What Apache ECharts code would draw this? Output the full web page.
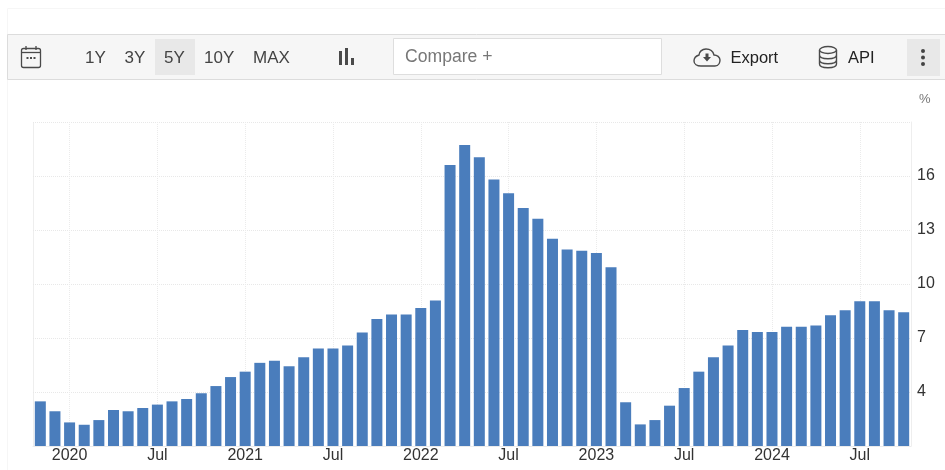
<!DOCTYPE html>
<html>
<head>
<meta charset="utf-8">
<style>html,body{margin:0;padding:0;background:#fff}#c{width:945px;height:470px}</style>
<script src="https://cdn.jsdelivr.net/npm/echarts@6/dist/echarts.min.js"></script>
</head>
<body>
<div id="c"></div>
<script>
const months = ['2019-11','2019-12',
 '2020-01','2020-02','2020-03','2020-04','2020-05','2020-06','2020-07','2020-08','2020-09','2020-10','2020-11','2020-12',
 '2021-01','2021-02','2021-03','2021-04','2021-05','2021-06','2021-07','2021-08','2021-09','2021-10','2021-11','2021-12',
 '2022-01','2022-02','2022-03','2022-04','2022-05','2022-06','2022-07','2022-08','2022-09','2022-10','2022-11','2022-12',
 '2023-01','2023-02','2023-03','2023-04','2023-05','2023-06','2023-07','2023-08','2023-09','2023-10','2023-11','2023-12',
 '2024-01','2024-02','2024-03','2024-04','2024-05','2024-06','2024-07','2024-08','2024-09','2024-10'];
const values = [3.48,2.93,
 2.31,2.18,2.44,3.0,2.93,3.11,3.3,3.48,3.61,3.93,4.33,4.83,
 5.13,5.62,5.74,5.43,5.93,6.41,6.41,6.59,7.31,8.06,8.3,8.3,
 8.67,9.09,16.61,17.72,17.04,15.81,15.04,14.22,13.63,12.52,11.91,11.85,
 11.72,10.93,3.43,2.2,2.44,3.24,4.22,5.13,5.93,6.59,7.44,7.33,
 7.33,7.63,7.63,7.7,8.26,8.54,9.04,9.04,8.54,8.43];
const yTicks = [4,7,10,13,16,19];
const yLabels = [4,7,10,13,16];
const rangeButtons = ['1Y','3Y','5Y','10Y','MAX'];

const FONT = '"Liberation Sans", Arial, sans-serif';
const labelFor = m => {
  const [y, mo] = m.split('-');
  return mo === '01' ? y : mo === '07' ? 'Jul' : '';
};
const isTick = (i) => labelFor(months[i]) !== '';

echarts.graphic.registerShape('iconCloud', echarts.graphic.extendPath('M701 66 H715 C719 66 720 62 720 60 C720 57 717 55 714 55 C713 51 710 49 706 49 C702 49 699 52 699 55 C696 56 694 58 694 61 C694 64 697 66 701 66 Z', {}));
echarts.graphic.registerShape('iconArrow', echarts.graphic.extendPath('M705.5 53.5 H708.5 V57 H711 L707 61.5 L703 57 H705.5 Z', {}));
echarts.graphic.registerShape('iconDb', echarts.graphic.extendPath('M819.5 50 V64 C819.5 69 836.5 69 836.5 64 V50 M819.5 55 C819.5 60 836.5 60 836.5 55 M819.5 60 C819.5 65 836.5 65 836.5 60', {}));

function t(text, x, y, size, fill, extra) {
  return {type:'text', silent:true, style:Object.assign({text, x, y, fill, font:size+'px '+FONT, textVerticalAlign:'middle', textAlign:'left'}, extra||{})};
}
function r(x,y,w,h,style,shapeExtra){
  return {type:'rect', silent:true, shape:Object.assign({x,y,width:w,height:h},shapeExtra||{}), style};
}
const dark = '#4a4a4a';
const stroke = (w,c)=>({fill:'none',stroke:c||dark,lineWidth:w});
const graphics = [
  {type:'line',silent:true,shape:{x1:7.5,y1:8.5,x2:945,y2:8.5},style:{stroke:'#f6f6f6',lineWidth:1}},
  {type:'line',silent:true,shape:{x1:7.5,y1:8.5,x2:7.5,y2:470},style:{stroke:'#f6f6f6',lineWidth:1}},
  r(7.5,34.5,938,45,{fill:'#f6f6f6',stroke:'#dcdcdc',lineWidth:1}),
  r(155,39,40,36,{fill:'#e8e8e8'}),
  r(907,39,33,37,{fill:'#e8e8e8'}),
  r(393.5,38.5,268,36,{fill:'#fff',stroke:'#dedede',lineWidth:1}),
  r(21.5,48.5,19,19,stroke(1.3),{r:2}),
  {type:'line',silent:true,shape:{x1:22,y1:52.5,x2:40,y2:52.5},style:stroke(1.3)},
  {type:'line',silent:true,shape:{x1:26,y1:46,x2:26,y2:50},style:stroke(1.3)},
  {type:'line',silent:true,shape:{x1:36,y1:46,x2:36,y2:50},style:stroke(1.3)},
  r(26.5,57,2,2,{fill:dark}), r(30,57,2,2,{fill:dark}), r(33.5,57,2,2,{fill:dark}),
  r(339,51,3,14,{fill:dark}), r(345,48,3,17,{fill:dark}), r(351,58,3,7,{fill:dark}),
  t('Compare +',405,57.5,17.6,'#777777'),
  {type:'iconCloud',silent:true,style:stroke(1.4)},
  {type:'iconArrow',silent:true,style:{fill:dark}},
  t('Export',730.5,58,16.5,'#222222'),
  {type:'ellipse',silent:true,shape:{cx:828,cy:50,rx:8.5,ry:3.5},style:stroke(1.4)},
  {type:'iconDb',silent:true,style:stroke(1.4)},
  t('API',848,58,16.5,'#222222'),
  {type:'circle',silent:true,shape:{cx:923,cy:51,r:2},style:{fill:'#444'}},
  {type:'circle',silent:true,shape:{cx:923,cy:57.5,r:2},style:{fill:'#444'}},
  {type:'circle',silent:true,shape:{cx:923,cy:64,r:2},style:{fill:'#444'}},
  t('%',919,99,13,'#777777'),
  {type:'line',silent:true,shape:{x1:33.5,y1:122,x2:33.5,y2:446},style:{stroke:'#eeeeee',lineWidth:1}},
];
const btnX = [85,124.5,164,204,253];
rangeButtons.forEach((b,i)=>graphics.push(t(b,btnX[i],58,17,'#444444')));

const chart = echarts.init(document.getElementById('c'),null,{renderer:'canvas'});
chart.setOption({
  animation:false,
  backgroundColor:'#fff',
  textStyle:{fontFamily:FONT},
  grid:{left:33,right:34,top:122,bottom:24},
  xAxis:{
    type:'category',
    data:months,
    axisLine:{lineStyle:{color:'#ececec'}},
    axisTick:{show:false},
    axisLabel:{
      interval:(i)=>isTick(i),
      formatter:(v)=>labelFor(v),
      color:'#333333',fontSize:16,margin:2,hideOverlap:false
    },
    splitLine:{show:true,alignWithLabel:true,interval:(i)=>isTick(i),lineStyle:{color:'#ebebeb',type:'dotted',width:1}}
  },
  yAxis:{
    type:'value',
    position:'right',
    min:1,max:19,
    axisLine:{show:true,lineStyle:{color:'#eeeeee'}},
    axisTick:{show:false,customValues:yTicks},
    axisLabel:{customValues:yLabels,color:'#333333',fontSize:16,margin:6,align:'left',verticalAlign:'middle',padding:[0,0,2,0]},
    splitLine:{show:true,lineStyle:{color:'#e8e8e8',type:'dotted',width:1}}
  },
  series:[{
    type:'bar',
    data:values,
    barWidth:11,
    itemStyle:{color:'#4a7dbc'}
  }],
  graphic:{elements:graphics}
});
</script>
</body>
</html>
